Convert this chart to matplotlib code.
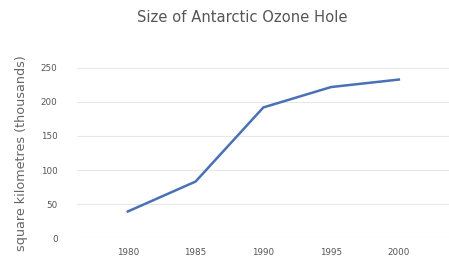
import matplotlib
matplotlib.use("Agg")
import matplotlib.pyplot as plt

years = ["1980", "1985", "1990", "1995", "2000"]
area = [39, 83, 192, 222, 233]
yticks = [0, 50, 100, 150, 200, 250]

plt.rcParams['font.family'] = ['DejaVu Sans']

fig = plt.figure(figsize=(4.49, 2.59), dpi=100)
ax = fig.add_axes([77/449, 21/259, 372/449, 170/259])

x = list(range(len(years)))
ax.plot(x, area, color="#4a70b5", linewidth=1.8, solid_joinstyle="round", zorder=3)

ax.set_xlim(-0.75, 4.74)
ax.set_ylim(0, 250)
ax.set_xticks(x)
ax.set_xticklabels(years)
ax.set_yticks(yticks)
ax.set_yticklabels([str(v) for v in yticks])

for s in ax.spines.values():
    s.set_visible(False)
ax.grid(axis="y", color="#e8e8e8", linewidth=0.8)
ax.set_axisbelow(True)
ax.tick_params(axis="both", length=0, labelsize=6.3, labelcolor="#555555")
ax.tick_params(axis="y", pad=14)
ax.tick_params(axis="x", pad=7)

ax.set_ylabel("square kilometres (thousands)", fontsize=9.2, color="#666666", labelpad=9)
fig.text(242/449, 1 - 17/259, "Size of Antarctic Ozone Hole", ha="center", va="center",
         fontsize=10.6, color="#555555")

fig.savefig("out.png", dpi=100)
